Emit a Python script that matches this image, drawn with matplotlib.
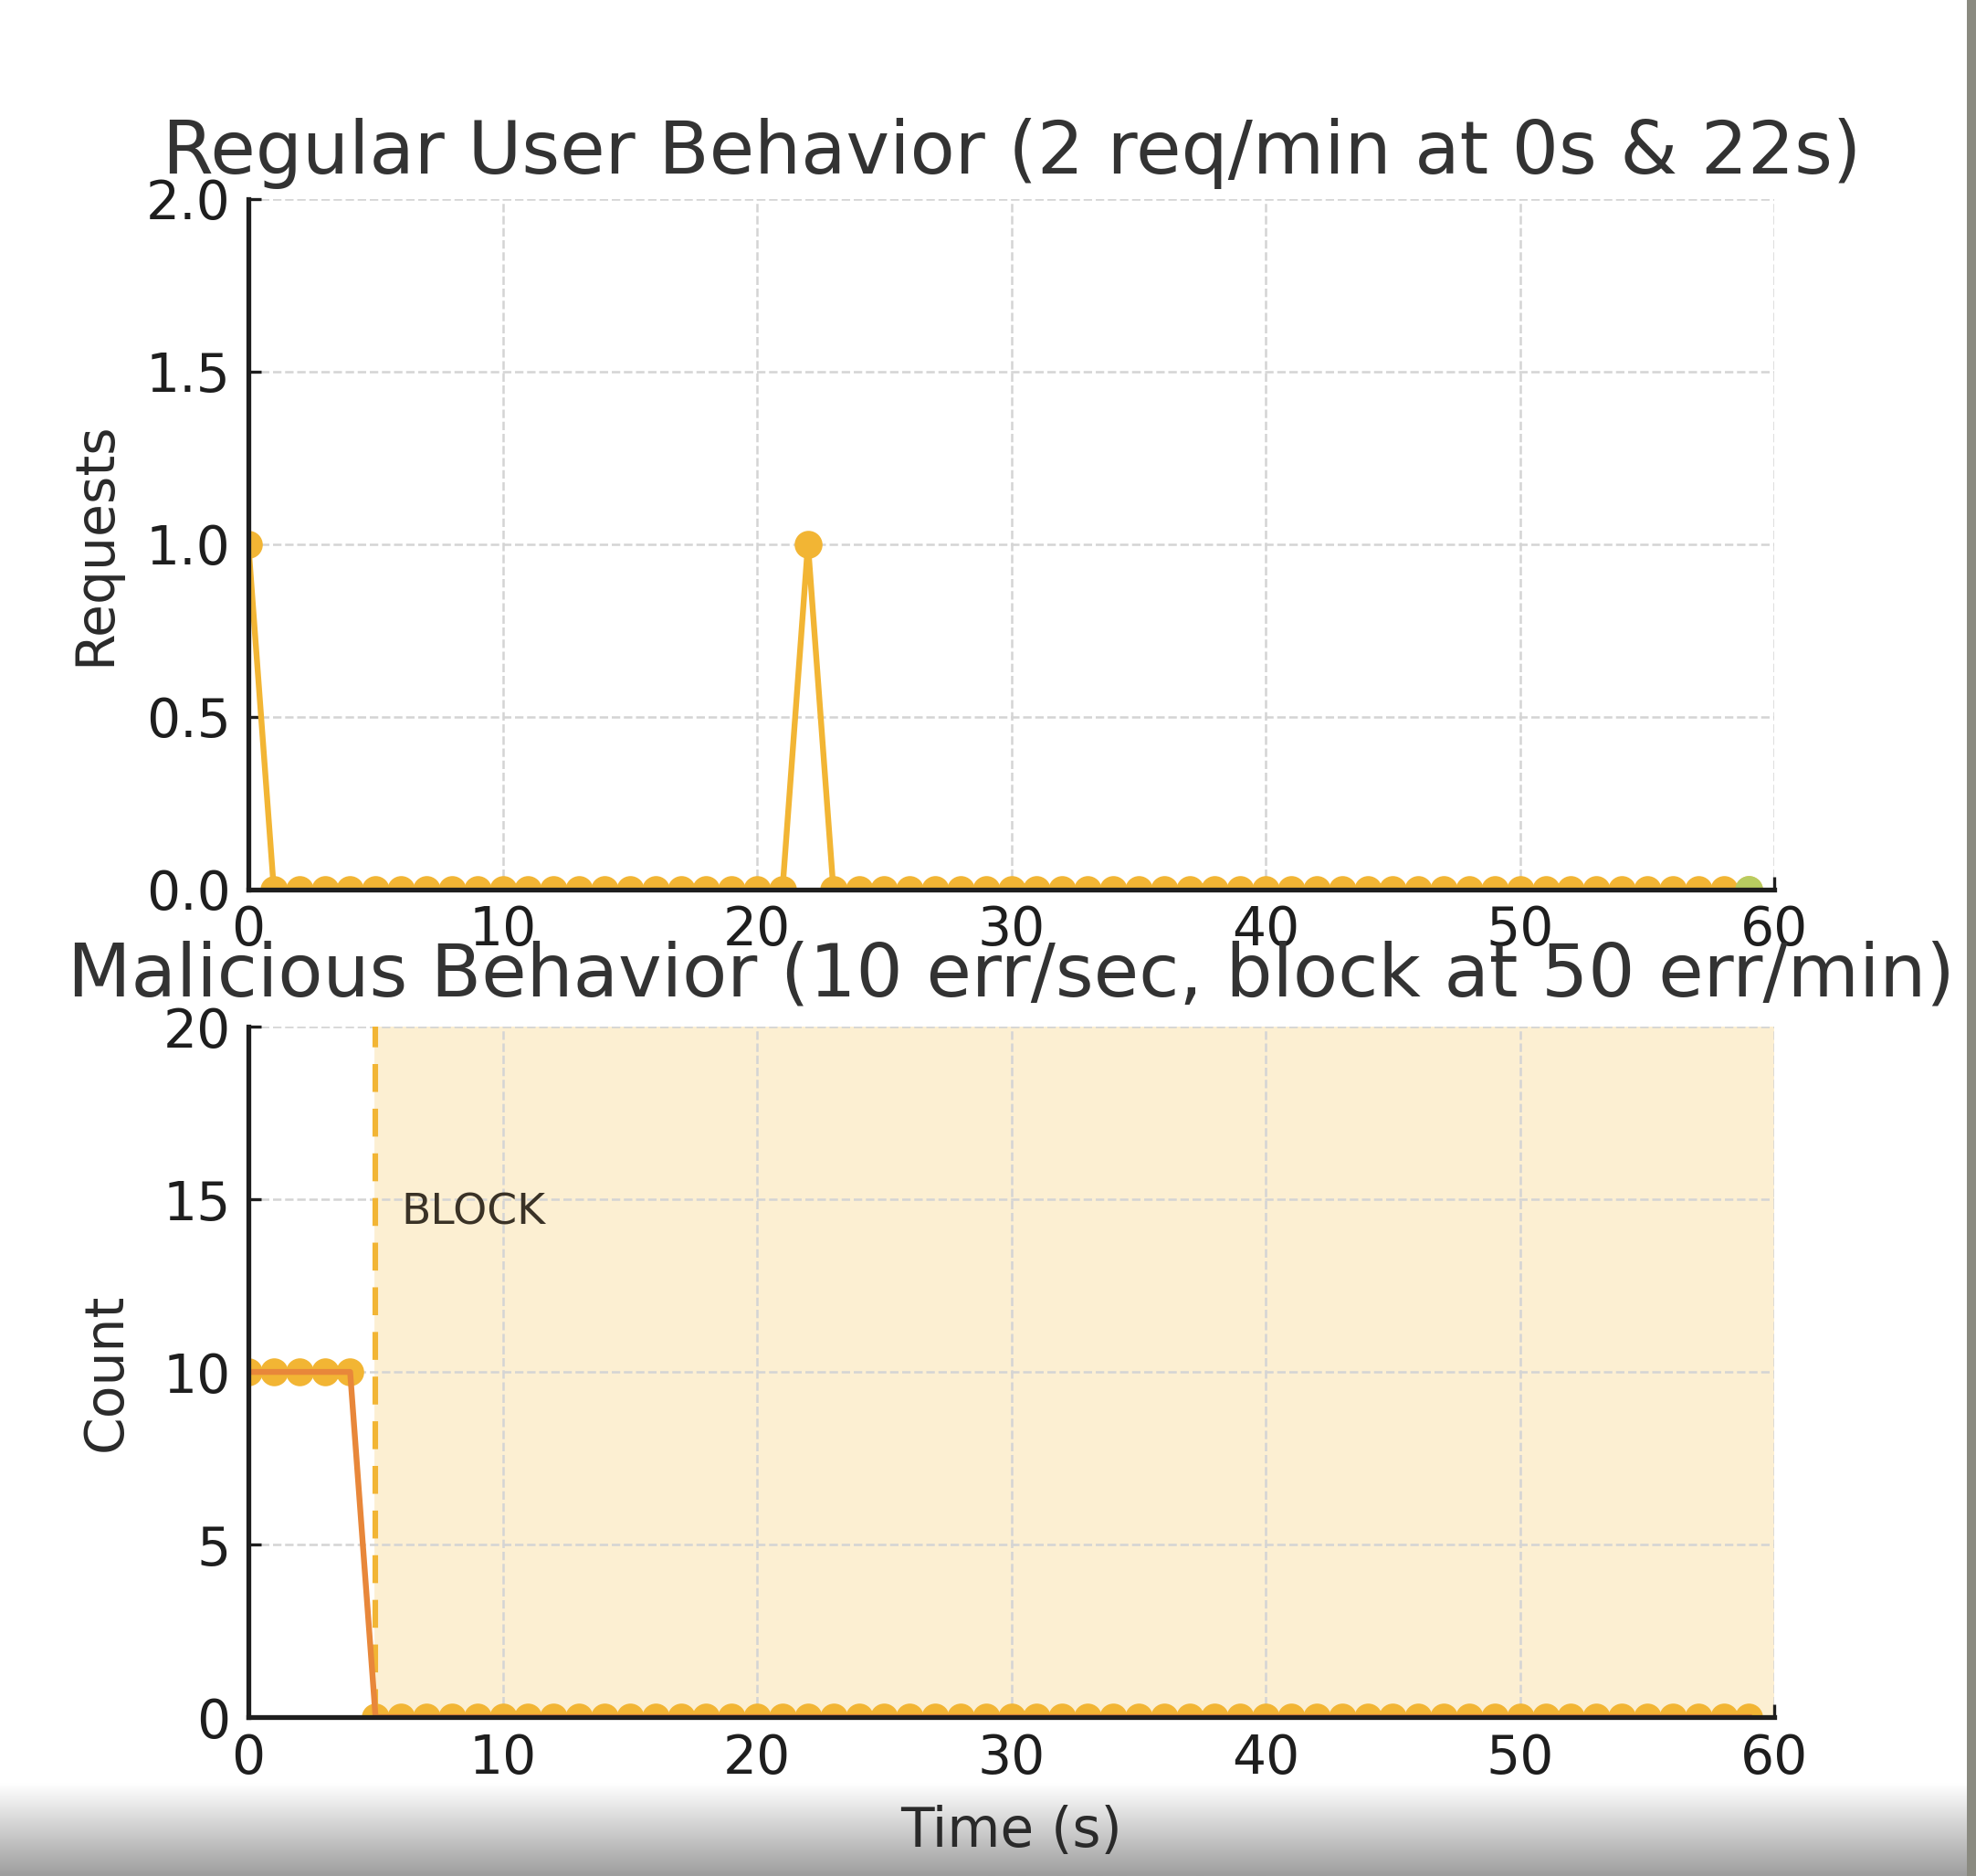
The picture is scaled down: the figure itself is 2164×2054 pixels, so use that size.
import numpy as np
import matplotlib
matplotlib.use('Agg')
import matplotlib.pyplot as plt

# =============================================================================
# Data
# =============================================================================
seconds = list(range(60))
regular_requests = [1, 0, 0, 0, 0, 0, 0, 0, 0, 0,
                    0, 0, 0, 0, 0, 0, 0, 0, 0, 0,
                    0, 0, 1, 0, 0, 0, 0, 0, 0, 0,
                    0, 0, 0, 0, 0, 0, 0, 0, 0, 0,
                    0, 0, 0, 0, 0, 0, 0, 0, 0, 0,
                    0, 0, 0, 0, 0, 0, 0, 0, 0, 0]
last_second = [59]
last_value = [0]

malicious_errors = [10, 10, 10, 10, 10, 0, 0, 0, 0, 0,
                    0, 0, 0, 0, 0, 0, 0, 0, 0, 0,
                    0, 0, 0, 0, 0, 0, 0, 0, 0, 0,
                    0, 0, 0, 0, 0, 0, 0, 0, 0, 0,
                    0, 0, 0, 0, 0, 0, 0, 0, 0, 0,
                    0, 0, 0, 0, 0, 0, 0, 0, 0, 0]
block_time = 5
block_label = 'BLOCK'

xticks = [0, 10, 20, 30, 40, 50, 60]
top_yticks = [0.0, 0.5, 1.0, 1.5, 2.0]
bottom_yticks = [0, 5, 10, 15, 20]

yellow = '#f2b534'
orange = '#e8873a'
shade = '#fcefd2'

plt.rcParams['font.family'] = 'DejaVu Sans'

fig = plt.figure(figsize=(10.82, 10.27), dpi=200)

# screen capture artefacts: grey band at the bottom, dark strip on the right
bg = fig.add_axes([0, 0, 1, 0.05], zorder=-5)
grad = np.linspace(0.62, 1.0, 50).reshape(-1, 1)
bg.imshow(grad, cmap='gray', vmin=0, vmax=1, aspect='auto', extent=[0, 1, 0, 1], origin='lower')
bg.set_axis_off()
strip = fig.add_axes([0.9955, 0, 0.0045, 1], zorder=-5)
strip.set_facecolor('#8a8a80')
strip.set_xticks([])
strip.set_yticks([])
for s in strip.spines.values():
    s.set_visible(False)


def style(ax, yticks, ylabel, labelpad):
    ax.set_xlim(0, 60)
    ax.set_ylim(yticks[0], yticks[-1])
    ax.set_xticks(xticks)
    ax.set_yticks(yticks)
    ax.grid(True, linestyle='--', color='#d4d4d4', linewidth=0.9)
    ax.set_axisbelow(True)
    for side in ['top', 'right']:
        ax.spines[side].set_visible(False)
    for side in ['left', 'bottom']:
        ax.spines[side].set_linewidth(1.9)
        ax.spines[side].set_color('#1e1e1e')
        ax.spines[side].set_zorder(5)
    ax.tick_params(direction='in', length=5, width=1.2, labelsize=21, colors='#1e1e1e')
    ax.tick_params(axis='y', pad=7)
    ax.tick_params(axis='x', pad=6)
    ax.set_ylabel(ylabel, fontsize=21, color='#2a2a2a', labelpad=labelpad)


# =============================================================================
# Regular user
# =============================================================================
ax1 = fig.add_axes([0.1257, 0.526, 0.7723, 0.368])
style(ax1, top_yticks, 'Requests', 10)
ax1.plot(seconds, regular_requests, '-o', color=yellow, linewidth=2.3, markersize=10, zorder=3)
ax1.plot(last_second, last_value, 'o', color='#b8cc60', markersize=10, zorder=4)
ax1.set_title('Regular User Behavior (2 req/min at 0s & 22s)', fontsize=29, color='#333333', pad=10)

# =============================================================================
# Malicious behaviour
# =============================================================================
ax2 = fig.add_axes([0.1257, 0.0847, 0.7723, 0.368])
style(ax2, bottom_yticks, 'Count', 12)
ax2.axvspan(block_time, 60, color=shade, zorder=0)
ax2.axvline(block_time, color=yellow, linestyle='--', linewidth=2.2, dashes=(5, 3), zorder=2)
ax2.plot(seconds, malicious_errors, 'o', color=yellow, markersize=10, zorder=3)
ax2.plot(seconds, malicious_errors, '-', color=orange, linewidth=2.3, zorder=4)
ax2.text(block_time + 1, 14.6, block_label, fontsize=17, color='#3a3226', va='center')
ax2.set_title('Malicious Behavior (10 err/sec, block at 50 err/min)', fontsize=29, color='#333333', pad=12)
ax2.set_xlabel('Time (s)', fontsize=21.5, color='#2a2a2a', labelpad=8)

plt.savefig('out.png', dpi=200)
